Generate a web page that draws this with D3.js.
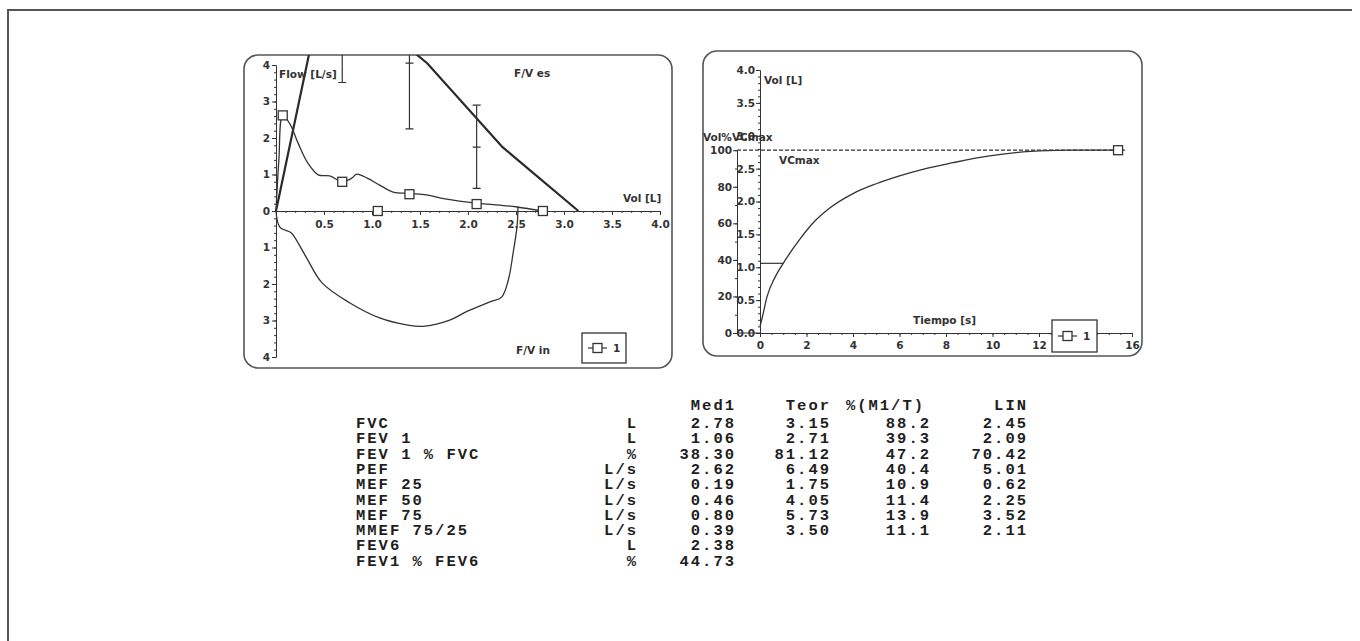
<!DOCTYPE html>
<html>
<head>
<meta charset="utf-8">
<title>Espirometría</title>
<script src="https://d3js.org/d3.v7.min.js"></script>
<style>
  body { margin: 0; padding: 0; background: #fff; }
  .lbl { font-family: "DejaVu Sans", sans-serif; font-weight: bold; font-size: 10.5px; fill: #333; }
  .tbl { font-family: "Liberation Mono", "Courier New", monospace; font-weight: bold; font-size: 15.5px; fill: #1e1e1e; letter-spacing: 2px; }
  .tick text { font-family: "DejaVu Sans", sans-serif; font-weight: bold; font-size: 10.5px; fill: #333; }
  .tick line, .domain { stroke: #333; }
</style>
</head>
<body>
<svg id="svg" width="1360" height="641"></svg>
<script>
// --- flow / volume loop (left) ---
const expVol  = [0, 0.03, 0.07, 0.15, 0.23, 0.33, 0.44, 0.56, 0.69, 0.79, 0.84, 0.95, 1.08, 1.22, 1.40, 1.57, 1.76, 2.10, 2.33, 2.51, 2.78];
const expFlow = [0, 1.40, 2.62, 2.36, 1.86, 1.32, 0.99, 0.96, 0.80, 0.90, 1.01, 0.90, 0.71, 0.52, 0.48, 0.44, 0.33, 0.21, 0.16, 0.11, 0];
const inspVol  = [0, 0.04, 0.15, 0.18, 0.32, 0.48, 0.77, 1.08, 1.36, 1.53, 1.81, 1.99, 2.23, 2.35, 2.42, 2.47, 2.51, 2.52, 2.52];
const inspFlow = [0, -0.44, -0.58, -0.66, -1.29, -1.97, -2.52, -2.93, -3.12, -3.16, -2.99, -2.75, -2.49, -2.36, -1.89, -1.15, -0.44, 0, 0.12];
const predVol  = [0, 0.52, 0.79, 1.575, 2.36, 3.15];
const predFlow = [0, 6.49, 5.73, 4.05, 1.75, 0];
const markVol  = [0.07, 0.69, 1.06, 1.39, 2.09, 2.78];
const markFlow = [2.62, 0.80, 0, 0.46, 0.19, 0];
// reference bars: position, predicted, lower limit (LIN), upper limit
const barVol  = [0.07, 0.69, 1.39, 2.09];
const barPred = [6.49, 5.73, 4.05, 1.75];
const barLow  = [5.01, 3.52, 2.25, 0.62];
const barHigh = [7.97, 7.9, 5.9, 2.9];
const flowTicks = [-4, -3, -2, -1, 0, 1, 2, 3, 4];
const volTicks  = [0.5, 1.0, 1.5, 2.0, 2.5, 3.0, 3.5, 4.0];

// --- volume / time (right) ---
const vtTime = [0, 0.1, 0.3, 0.65, 1.0, 1.7, 2.3, 3.0, 4.0, 5.0, 6.0, 7.0, 8.3, 9.8, 11.2, 12.0, 13.5, 15.4];
const vtVol  = [0.1, 0.24, 0.55, 0.85, 1.06, 1.42, 1.68, 1.90, 2.12, 2.27, 2.39, 2.49, 2.59, 2.69, 2.75, 2.77, 2.78, 2.78];
const fev1 = { t: 1.0, v: 1.06 };
const vcmaxPct = 100;
const volLTicks = [0, 0.5, 1.0, 1.5, 2.0, 2.5, 3.0, 3.5, 4.0];
const pctTicks  = [0, 20, 40, 60, 80, 100];
const timeTicks = [0, 2, 4, 6, 8, 10, 12, 14, 16];

// --- results table ---
const params = ["FVC", "FEV 1", "FEV 1 % FVC", "PEF", "MEF 25", "MEF 50", "MEF 75", "MMEF 75/25", "FEV6", "FEV1 % FEV6"];
const units  = ["L", "L", "%", "L/s", "L/s", "L/s", "L/s", "L/s", "L", "%"];
const med1   = ["2.78", "1.06", "38.30", "2.62", "0.19", "0.46", "0.80", "0.39", "2.38", "44.73"];
const teor   = ["3.15", "2.71", "81.12", "6.49", "1.75", "4.05", "5.73", "3.50", "", ""];
const pctMT  = ["88.2", "39.3", "47.2", "40.4", "10.9", "11.4", "13.9", "11.1", "", ""];
const lin    = ["2.45", "2.09", "70.42", "5.01", "0.62", "2.25", "3.52", "2.11", "", ""];
const headers = ["Med1", "Teor", "%(M1/T)", "LIN"];

const svg = d3.select("#svg");
const ink = "#333";

// outer frame (top and left edges)
svg.append("path").attr("d", "M8,641V10H1352").attr("fill", "none").attr("stroke", "#555").attr("stroke-width", 2);

// panels
const defs = svg.append("defs");
function panel(id, x, y, w, h) {
  defs.append("clipPath").attr("id", id).append("rect")
    .attr("x", x).attr("y", y).attr("width", w).attr("height", h).attr("rx", 14);
  svg.append("rect").attr("x", x).attr("y", y).attr("width", w).attr("height", h).attr("rx", 14)
    .attr("fill", "#fff").attr("stroke", "#555").attr("stroke-width", 1.6);
}
panel("clipL", 244, 55, 428, 313);
panel("clipR", 703, 51, 439, 305);

function marker(g, cx, cy) {
  g.append("rect").attr("x", cx - 4.5).attr("y", cy - 4.5).attr("width", 9).attr("height", 9)
    .attr("fill", "#fff").attr("stroke", ink).attr("stroke-width", 1.3);
}

// ===== left: flow / volume =====
const xL = d3.scaleLinear().domain([0, 4]).range([276, 660]);
const yF = d3.scaleLinear().domain([-4, 4]).range([357, 65]);
const gL = svg.append("g");

gL.append("g").attr("transform", `translate(${xL(0)},0)`)
  .call(d3.axisLeft(yF).tickValues(d3.range(-4, 4.001, 0.2)).tickSize(2).tickSizeOuter(0).tickFormat(""));
gL.append("g").attr("transform", `translate(${xL(0)},0)`)
  .call(d3.axisLeft(yF).tickValues(flowTicks).tickSize(4).tickSizeOuter(0).tickPadding(2).tickFormat(d => Math.abs(d)));
gL.append("g").attr("transform", `translate(0,${yF(0)})`)
  .call(d3.axisBottom(xL).tickValues(d3.range(0, 4.001, 0.1)).tickSize(2).tickSizeOuter(0).tickFormat(""));
gL.append("g").attr("transform", `translate(0,${yF(0)})`)
  .call(d3.axisBottom(xL).tickValues(volTicks).tickSize(4).tickSizeOuter(0).tickPadding(6).tickFormat(d3.format(".1f")));

const lineL = d3.line().x(d => xL(d[0])).y(d => yF(d[1]));
const plotL = gL.append("g").attr("clip-path", "url(#clipL)");

plotL.append("path").datum(predVol.map((v, i) => [v, predFlow[i]]))
  .attr("d", lineL).attr("fill", "none").attr("stroke", "#2a2a2a").attr("stroke-width", 2.2);

barVol.forEach((v, i) => {
  const bx = xL(v);
  plotL.append("line").attr("x1", bx).attr("x2", bx).attr("y1", yF(barHigh[i])).attr("y2", yF(barLow[i]))
    .attr("stroke", ink).attr("stroke-width", 1.2);
  [barHigh[i], barPred[i], barLow[i]].forEach(f => {
    plotL.append("line").attr("x1", bx - 4).attr("x2", bx + 4).attr("y1", yF(f)).attr("y2", yF(f))
      .attr("stroke", ink).attr("stroke-width", 1.2);
  });
});

const smooth = d3.line().x(d => xL(d[0])).y(d => yF(d[1])).curve(d3.curveCatmullRom);
plotL.append("path").datum(expVol.map((v, i) => [v, expFlow[i]]))
  .attr("d", smooth).attr("fill", "none").attr("stroke", ink).attr("stroke-width", 1.3);
plotL.append("path").datum(inspVol.map((v, i) => [v, inspFlow[i]]))
  .attr("d", smooth).attr("fill", "none").attr("stroke", ink).attr("stroke-width", 1.3);
markVol.forEach((v, i) => marker(plotL, xL(v), yF(markFlow[i])));

gL.append("text").attr("class", "lbl").attr("x", 279).attr("y", 78).text("Flow [L/s]");
gL.append("text").attr("class", "lbl").attr("x", 514).attr("y", 77).text("F/V es");
gL.append("text").attr("class", "lbl").attr("x", 623).attr("y", 202).text("Vol [L]");
gL.append("text").attr("class", "lbl").attr("x", 516).attr("y", 354).text("F/V in");

function legend(g, x, y, w, h) {
  g.append("rect").attr("x", x).attr("y", y).attr("width", w).attr("height", h)
    .attr("fill", "#fff").attr("stroke", ink).attr("stroke-width", 1.3);
  const my = y + h / 2;
  g.append("line").attr("x1", x + 6).attr("x2", x + 25).attr("y1", my).attr("y2", my)
    .attr("stroke", ink).attr("stroke-width", 1.2);
  marker(g, x + 15.5, my);
  g.append("text").attr("class", "lbl").attr("x", x + 31).attr("y", my + 4).text("1");
}
legend(gL, 582, 333, 44, 30);

// ===== right: volume / time =====
const xT = d3.scaleLinear().domain([0, 16]).range([760, 1132]);
const yV = d3.scaleLinear().domain([0, 4]).range([333, 70]);
const yP = d3.scaleLinear().domain([0, vcmaxPct]).range([333, yV(2.78)]);
const gR = svg.append("g");

gR.append("line").attr("x1", 737).attr("x2", xT(0)).attr("y1", yV(0)).attr("y2", yV(0)).attr("stroke", ink);
gR.append("g").attr("transform", `translate(0,${yV(0)})`)
  .call(d3.axisBottom(xT).tickValues(d3.range(0, 16.001, 0.5)).tickSize(2).tickSizeOuter(0).tickFormat(""));
gR.append("g").attr("transform", `translate(0,${yV(0)})`)
  .call(d3.axisBottom(xT).tickValues(timeTicks).tickSize(4).tickSizeOuter(0).tickPadding(5));
gR.append("g").attr("transform", "translate(737,0)")
  .call(d3.axisLeft(yP).tickValues(d3.range(0, 100.001, 10)).tickSize(2).tickSizeOuter(0).tickFormat(""));
gR.append("g").attr("transform", "translate(737,0)")
  .call(d3.axisLeft(yP).tickValues(pctTicks).tickSize(4).tickSizeOuter(0).tickPadding(1));
gR.append("g").attr("transform", `translate(${xT(0)},0)`)
  .call(d3.axisLeft(yV).tickValues(d3.range(0, 4.001, 0.1)).tickSize(2).tickSizeOuter(0).tickFormat(""));
gR.append("g").attr("transform", `translate(${xT(0)},0)`)
  .call(d3.axisLeft(yV).tickValues(volLTicks).tickSize(4).tickSizeOuter(0).tickPadding(1).tickFormat(d3.format(".1f")));

const plotR = gR.append("g").attr("clip-path", "url(#clipR)");
plotR.append("line").attr("x1", 737).attr("x2", xT(15.7)).attr("y1", yP(vcmaxPct)).attr("y2", yP(vcmaxPct))
  .attr("stroke", ink).attr("stroke-width", 1.2).attr("stroke-dasharray", "4,2");
plotR.append("line").attr("x1", xT(0)).attr("x2", xT(fev1.t)).attr("y1", yV(fev1.v)).attr("y2", yV(fev1.v))
  .attr("stroke", ink).attr("stroke-width", 1.2);
plotR.append("path").datum(vtTime.map((t, i) => [t, vtVol[i]]))
  .attr("d", d3.line().x(d => xT(d[0])).y(d => yV(d[1])).curve(d3.curveMonotoneX))
  .attr("fill", "none").attr("stroke", ink).attr("stroke-width", 1.3);
marker(plotR, xT(vtTime[vtTime.length - 1]), yV(vtVol[vtVol.length - 1]));

gR.append("text").attr("class", "lbl").attr("x", 764).attr("y", 84).text("Vol [L]");
gR.append("text").attr("class", "lbl").attr("x", 703).attr("y", 141).text("Vol%VCmax");
// VCmax label sits on a white patch that interrupts the dashed line
const vcBg = gR.append("rect").attr("fill", "#fff");
const vcl = gR.append("text").attr("class", "lbl").attr("x", 779).attr("y", 164).text("VCmax");
const bb = vcl.node().getBBox();
vcBg.attr("x", bb.x - 1).attr("y", bb.y - 3).attr("width", bb.width + 2).attr("height", bb.height + 3);
gR.append("text").attr("class", "lbl").attr("x", 913).attr("y", 324).text("Tiempo [s]");
legend(gR, 1052, 320, 45, 32);

// ===== table =====
const gT = svg.append("g");
const rowY = d3.scaleLinear().domain([0, 1]).range([428, 443.3]);
const hdrX = [734, 829, 923, 1026];
headers.forEach((h, i) => gT.append("text").attr("class", "tbl").attr("x", hdrX[i] + 2).attr("y", 410)
  .attr("text-anchor", "end").text(h));
params.forEach((p, i) => {
  const y = rowY(i);
  gT.append("text").attr("class", "tbl").attr("x", 356).attr("y", y).text(p);
  gT.append("text").attr("class", "tbl").attr("x", 638).attr("y", y).attr("text-anchor", "end").text(units[i]);
  gT.append("text").attr("class", "tbl").attr("x", 736).attr("y", y).attr("text-anchor", "end").text(med1[i]);
  gT.append("text").attr("class", "tbl").attr("x", 831).attr("y", y).attr("text-anchor", "end").text(teor[i]);
  gT.append("text").attr("class", "tbl").attr("x", 931).attr("y", y).attr("text-anchor", "end").text(pctMT[i]);
  gT.append("text").attr("class", "tbl").attr("x", 1028).attr("y", y).attr("text-anchor", "end").text(lin[i]);
});
</script>
</body>
</html>
